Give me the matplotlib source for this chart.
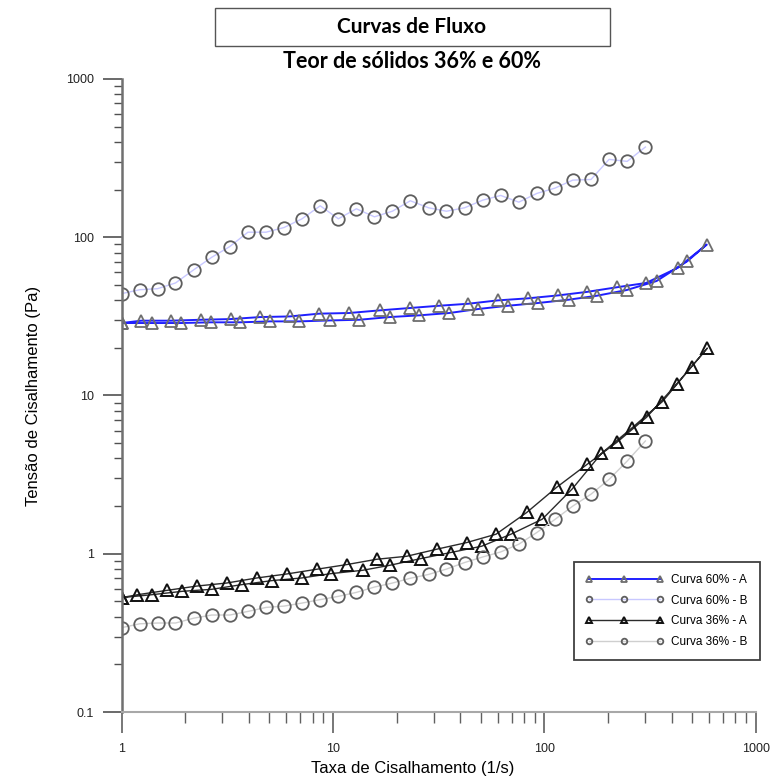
import matplotlib
matplotlib.use('Agg')
import matplotlib.pyplot as plt
from matplotlib.ticker import LogLocator, FuncFormatter, NullFormatter
from matplotlib.patches import Rectangle

# Curva 60% - A (ida e volta)
x_60a = [1.0, 1.24, 1.71, 2.37, 3.28, 4.52, 6.26, 8.61, 11.9, 16.6, 23.0, 31.7, 43.6,
         60.1, 83.3, 116, 158, 220, 302, 426, 585,
         473, 339, 245, 177, 130, 92.9, 67.0, 48.6, 35.4, 25.6, 18.5, 13.3, 9.65,
         6.93, 5.04, 3.63, 2.64, 1.91, 1.39, 1.0]
y_60a = [28.7, 29.7, 29.7, 30.1, 30.4, 31.3, 31.6, 32.9, 33.2, 34.5, 35.7, 36.9, 38.0,
         39.9, 41.1, 42.9, 45.1, 48.3, 51.4, 64.0, 89.9,
         70.5, 52.9, 46.4, 42.7, 40.3, 38.4, 36.9, 35.2, 33.2, 32.1, 31.3, 30.1, 29.8,
         29.4, 29.4, 29.0, 29.0, 28.7, 28.7, 28.7]

# Curva 60% - B
x_60b = [1.0, 1.22, 1.48, 1.80, 2.20, 2.67, 3.25, 3.96, 4.82, 5.87, 7.14, 8.70, 10.6,
         12.9, 15.7, 19.1, 23.2, 28.3, 34.4, 41.9, 51.0, 62.1, 75.6, 92.0, 112, 136,
         166, 202, 246, 300]
y_60b = [44.0, 46.6, 47.3, 51.4, 62.4, 74.7, 87.3, 107.6, 107.6, 115.2, 130.8, 158.0,
         130.8, 151.3, 134.6, 146.1, 170, 153.5, 146, 153.5, 171.5, 183.7, 166.6,
         189.2, 204.3, 229.6, 231.8, 310.5, 301.5, 371.6]

# Curva 36% - A (ida e volta)
x_36a = [1.0, 1.19, 1.64, 2.27, 3.14, 4.36, 6.04, 8.37, 11.6, 16.1, 22.3, 30.9, 42.9,
         59.0, 82.4, 114, 159, 220, 304, 422, 589,
         497, 361, 258, 186, 135, 97.6, 69.4, 50.5, 36.0, 26.0, 18.6, 13.8, 9.78,
         7.11, 5.16, 3.70, 2.67, 1.94, 1.39, 1.0]
y_36a = [0.528, 0.551, 0.587, 0.625, 0.653, 0.703, 0.745, 0.798, 0.854, 0.923, 0.964,
         1.068, 1.177, 1.329, 1.823, 2.626, 3.672, 5.06, 7.29, 11.85, 19.93,
         15.24, 9.15, 6.21, 4.31, 2.562, 1.654, 1.329, 1.116, 1.018, 0.932, 0.846,
         0.786, 0.749, 0.703, 0.677, 0.638, 0.596, 0.579, 0.551, 0.528]

# Curva 36% - B
x_36b = x_60b
y_36b = [0.341, 0.361, 0.365, 0.365, 0.392, 0.410, 0.410, 0.432, 0.458, 0.467, 0.488,
         0.513, 0.538, 0.570, 0.616, 0.653, 0.70, 0.74, 0.80, 0.88, 0.954, 1.027,
         1.149, 1.362, 1.647, 2.00, 2.38, 2.95, 3.85, 5.16]

fig = plt.figure(figsize=(7.7, 7.82), dpi=100)
ax = fig.add_axes([0.1578, 0.0895, 0.824, 0.8095])

ax.plot(x_60a, y_60a, color='#1f1fff', lw=1.4, marker='^', ms=8.5, mfc='none',
        mec='#6e6e6e', mew=1.3, label='Curva 60% - A')
ax.plot(x_60b, y_60b, color='#c8c8ff', lw=1, marker='o', ms=9, mfc='none',
        mec='#5e5e5e', mew=1.3, label='Curva 60% - B')
ax.plot(x_36a, y_36a, color='#2b2b2b', lw=1, marker='^', ms=8.5, mfc='none',
        mec='#111111', mew=1.4, label='Curva 36% - A')
ax.plot(x_36b, y_36b, color='#cfcfcf', lw=1, marker='o', ms=9, mfc='none',
        mec='#5e5e5e', mew=1.3, label='Curva 36% - B')

ax.set_xscale('log')
ax.set_yscale('log')
ax.set_xlim(1, 1000)
ax.set_ylim(0.1, 1000)

ax.spines['top'].set_visible(False)
ax.spines['right'].set_visible(False)
ax.spines['left'].set_color('#707070')
ax.spines['left'].set_linewidth(1.8)
ax.spines['bottom'].set_color('#a8a8a8')
ax.spines['bottom'].set_linewidth(1.5)

fmt = FuncFormatter(lambda v, p: '%g' % v)
for axis in (ax.xaxis, ax.yaxis):
    axis.set_major_locator(LogLocator(base=10))
    axis.set_minor_locator(LogLocator(base=10, subs=range(2, 10)))
    axis.set_major_formatter(fmt)
    axis.set_minor_formatter(NullFormatter())

ax.tick_params(axis='y', which='major', direction='out', length=14, width=1.2,
               color='#505050', labelsize=9, pad=6, labelcolor='#222222')
ax.tick_params(axis='y', which='minor', direction='out', length=6, width=1.0,
               color='#505050')
ax.tick_params(axis='x', which='major', direction='out', length=15, width=1.2,
               color='#606060', labelsize=9, pad=7, labelcolor='#222222')
ax.tick_params(axis='x', which='minor', direction='out', length=8, width=1.0,
               color='#606060')
for lab in ax.get_xticklabels() + ax.get_yticklabels():
    lab.set_family('Liberation Sans')

ax.set_xlabel('Taxa de Cisalhamento (1/s)', fontsize=12, family='Liberation Sans')
ax.set_ylabel('Tensão de Cisalhamento (Pa)', fontsize=12, family='Liberation Sans')
ax.xaxis.set_label_coords(0.459, -0.09)
ax.xaxis.label.set_va('center')
ax.yaxis.set_label_coords(-0.139, 0.5)
ax.yaxis.label.set_va('center')

leg = ax.legend(loc='lower right', bbox_to_anchor=(1.006, 0.082),
                prop={'family': 'Liberation Sans', 'size': 8.5},
                handlelength=6.6, numpoints=3, markerscale=0.45, fancybox=False,
                framealpha=1, edgecolor='#404040', borderpad=1.0, labelspacing=0.75,
                handletextpad=0.7, borderaxespad=0)
leg.get_frame().set_linewidth(1.3)

# caixa do titulo
fig.patches.append(Rectangle((215 / 770, 1 - 46 / 782), 395 / 770, 38 / 782,
                             transform=fig.transFigure, fill=False,
                             edgecolor='#555555', lw=1))
fig.text(412 / 770, 1 - 27 / 782, 'Curvas de Fluxo', family='Lato', weight='bold',
         fontsize=15, ha='center', va='center')
fig.text(412 / 770, 1 - 61 / 782, 'Teor de sólidos 36% e 60%', family='Lato',
         weight='bold', fontsize=15.5, ha='center', va='center')

fig.savefig('out.png', dpi=100)
